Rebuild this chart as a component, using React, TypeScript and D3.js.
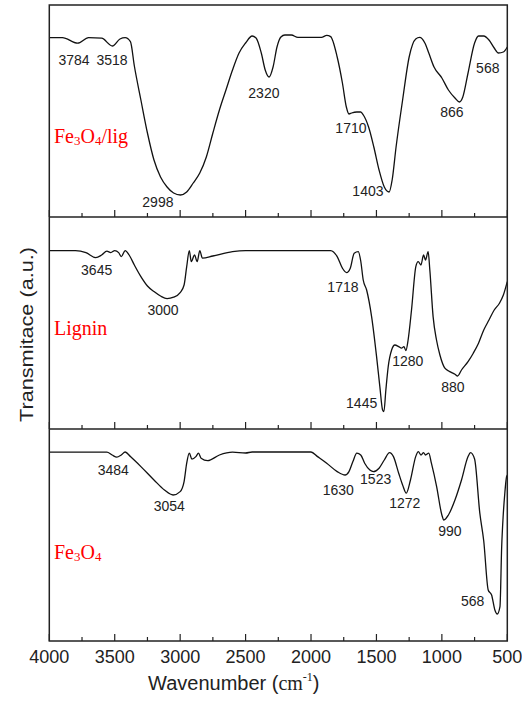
import React from 'react';
import * as d3 from 'd3';

// FTIR spectra, wavenumber (cm-1) vs transmittance (a.u.)

const compositeWn = [4000, 3900, 3784, 3700, 3600, 3518, 3460, 3420, 3380, 3350, 3300, 3250, 3200, 3150, 3100, 3050, 2998, 2950, 2900, 2850, 2800, 2750, 2700, 2650, 2600, 2550, 2500, 2450, 2420, 2380, 2350, 2320, 2290, 2260, 2230, 2200, 2150, 2100, 2000, 1920, 1880, 1850, 1800, 1760, 1730, 1710, 1690, 1650, 1620, 1600, 1560, 1520, 1480, 1440, 1403, 1380, 1350, 1300, 1250, 1200, 1170, 1130, 1100, 1060, 1000, 950, 900, 866, 840, 800, 750, 720, 680, 640, 600, 568, 530, 500];
const compositeT = [89.7, 89.7, 86.9, 89.7, 89.4, 85.5, 89, 89.7, 87.7, 75.5, 58.5, 42, 28.5, 20, 15, 12, 11, 12.5, 17, 22, 30, 42, 53.5, 63.5, 73.5, 82, 87, 90.5, 89.5, 82, 73.5, 70, 75, 85, 90, 91, 91, 89.8, 89.8, 89.8, 90.8, 90.2, 80, 67, 55, 51.5, 52, 52.5, 52.5, 51, 45, 35, 23.5, 15, 12.5, 18.5, 35, 58.5, 80, 89, 89.8, 87, 82, 75, 69.5, 63.5, 59.5, 57.5, 60, 72, 87, 90.5, 90.5, 88.5, 84.5, 82, 82.5, 85];

const ligninWn = [4000, 3800, 3720, 3645, 3600, 3560, 3530, 3500, 3470, 3450, 3420, 3390, 3350, 3300, 3250, 3200, 3150, 3100, 3050, 3000, 2970, 2950, 2930, 2915, 2890, 2870, 2850, 2830, 2750, 2600, 2500, 2000, 1850, 1800, 1760, 1728, 1700, 1670, 1639, 1620, 1601, 1575, 1537, 1499, 1474, 1453, 1443, 1428, 1410, 1384, 1359, 1330, 1308, 1290, 1275, 1258, 1232, 1199, 1181, 1160, 1140, 1125, 1105, 1092, 1067, 1041, 1015, 977, 940, 900, 880, 850, 800, 760, 720, 680, 640, 600, 560, 530, 500];
const ligninT = [89.2, 89.2, 88.2, 85.7, 87, 88.9, 88.2, 89.2, 88.2, 86.2, 89.2, 87, 82, 76.2, 71.5, 68.7, 66.5, 65.2, 65.9, 68.2, 72, 81.2, 89.2, 83.7, 87, 83.7, 89.2, 85.4, 86.5, 88.7, 89.2, 89.2, 89.2, 86.2, 80.4, 78.2, 80.4, 87.9, 88.7, 84, 74.5, 69.5, 56.2, 36.2, 21.2, 9.5, 8.7, 19.5, 31.2, 39.5, 42, 41.2, 40.4, 41.2, 39.2, 44.5, 59.5, 81.2, 83.7, 82, 87, 84.5, 88.7, 79.5, 56.2, 44.5, 37, 30.4, 28.7, 27.4, 26.5, 29.5, 33.7, 37.9, 42.9, 49.5, 54.5, 59.5, 62.9, 67, 73.7];

const magnetiteWn = [4000, 3560, 3520, 3484, 3450, 3420, 3380, 3300, 3200, 3120, 3054, 3000, 2970, 2950, 2930, 2910, 2880, 2860, 2840, 2790, 2700, 2600, 2500, 2450, 2000, 1950, 1880, 1800, 1740, 1710, 1680, 1650, 1620, 1590, 1550, 1523, 1480, 1440, 1400, 1370, 1330, 1300, 1272, 1240, 1200, 1180, 1160, 1140, 1125, 1100, 1080, 1040, 1000, 985, 950, 900, 850, 800, 781, 750, 710, 680, 646, 620, 595, 577, 556, 543, 532, 519, 506, 500];
const magnetiteT = [94.4, 94.4, 93, 91.9, 93, 94.5, 92.2, 87.2, 80.5, 75.5, 73, 74.7, 79.7, 88.9, 93.9, 90.9, 92.2, 93.9, 91.4, 90.2, 93, 94.4, 94, 94.5, 94.5, 92.2, 88.9, 84.7, 83, 84.7, 89.7, 93.9, 93, 88.9, 85.5, 84.7, 86.4, 90.5, 94.2, 92.2, 83.9, 78, 73.9, 80.5, 92.2, 94.7, 93, 94.2, 93, 93.9, 88.9, 77.2, 63, 60.5, 63, 70.5, 80.5, 92.2, 94.2, 91, 63.9, 50, 25.5, 23, 15.5, 13.5, 17.2, 47, 62, 73.9, 82, 83];

// peak labels, anchored in (wavenumber, transmittance) of each panel
const compositePeaks = ['3784', '3518', '2320', '1710', '866', '568', '2998', '1403'];
const compositePeakAt = [[3811, 76], [3521, 76], [2360, 59.5], [1695, 42], [924, 50], [649, 72], [3170, 5], [1565, 10.5]];

const ligninPeaks = ['3645', '3000', '1718', '1445', '1280', '880'];
const ligninPeakAt = [[3638, 77], [3131, 57], [1756, 68.7], [1613, 10.4], [1260, 31.7], [916, 18.7]];

const magnetitePeaks = ['3484', '3054', '1630', '1523', '1272', '990', '568'];
const magnetitePeakAt = [[3511, 83], [3083, 65], [1792, 73], [1506, 78.4], [1283, 66.7], [939, 52.7], [765, 17.7]];

const sampleNames = [['Fe', '3', 'O', '4', '/lig'], ['Lignin'], ['Fe', '3', 'O', '4']];
const sampleNameAt = [[3964, 37], [3964, 47], [3964, 41]];

const xTicks = d3.range(4000, 499, -250);

const W = 522;
const H = 702;
const left = 49.3;
const right = 507.3;
const top = 5;
const panelH = 212;

const sans = 'Liberation Sans, Arial, sans-serif';
const serif = 'Liberation Serif, Times New Roman, serif';

const x = d3.scaleLinear().domain([4000, 500]).range([left, right]);

const panels = [
  { wn: compositeWn, t: compositeT, peaks: compositePeaks, peakAt: compositePeakAt },
  { wn: ligninWn, t: ligninT, peaks: ligninPeaks, peakAt: ligninPeakAt },
  { wn: magnetiteWn, t: magnetiteT, peaks: magnetitePeaks, peakAt: magnetitePeakAt },
];

const Panel = ({ idx }: { idx: number }) => {
  const p = panels[idx];
  const y0 = top + idx * panelH;
  const y = d3.scaleLinear().domain([0, 106]).range([y0 + panelH, y0]);
  const line = d3
    .line<[number, number]>()
    .x((d) => x(d[0]))
    .y((d) => y(d[1]))
    .curve(d3.curveMonotoneX);
  const pts = p.wn.map((w, i) => [w, p.t[i]] as [number, number]);
  const name = sampleNames[idx];
  const [nw, nt] = sampleNameAt[idx];

  return (
    <g>
      <path d={line(pts) || ''} fill="none" stroke="#111" strokeWidth={1.3} />
      {xTicks.map((t) => (
        <line
          key={t}
          x1={x(t)}
          x2={x(t)}
          y1={y0 + panelH}
          y2={y0 + panelH - (t % 500 === 0 ? 7 : 4)}
          stroke="#222"
          strokeWidth={1.2}
        />
      ))}
      {p.peaks.map((s, i) => (
        <text
          key={s + i}
          x={x(p.peakAt[i][0])}
          y={y(p.peakAt[i][1])}
          textAnchor="middle"
          fontFamily={sans}
          fontSize={14}
          fill="#222"
        >
          {s}
        </text>
      ))}
      <text x={x(nw)} y={y(nt)} fontFamily={serif} fontSize={20} fill="#ff0000">
        {name.map((s, i) =>
          /^\d$/.test(s) ? (
            <tspan key={i} fontSize={13} dy={2}>
              {s}
            </tspan>
          ) : (
            <tspan key={i} dy={i > 0 && /^\d$/.test(name[i - 1]) ? -2 : 0}>
              {s}
            </tspan>
          )
        )}
      </text>
    </g>
  );
};

export default function App() {
  const bottom = top + 3 * panelH;
  return (
    <svg
      width={W}
      height={H}
      style={{ position: 'absolute', left: 0, top: 0, background: '#fff' }}
    >
      <rect x={0} y={0} width={W} height={H} fill="#fff" />
      {[0, 1, 2].map((i) => (
        <Panel key={i} idx={i} />
      ))}
      <rect
        x={left}
        y={top}
        width={right - left}
        height={bottom - top}
        fill="none"
        stroke="#222"
        strokeWidth={1.5}
      />
      {[1, 2].map((i) => (
        <line
          key={i}
          x1={left}
          x2={right}
          y1={top + i * panelH}
          y2={top + i * panelH}
          stroke="#222"
          strokeWidth={1.5}
        />
      ))}
      {xTicks
        .filter((t) => t % 500 === 0)
        .map((t) => (
          <text
            key={t}
            x={x(t)}
            y={bottom + 22}
            textAnchor="middle"
            fontFamily={sans}
            fontSize={18}
            fill="#222"
          >
            {t}
          </text>
        ))}
      <text x={148} y={690} fontFamily={sans} fontSize={20} fill="#222">
        Wavenumber (
        <tspan fontFamily={serif}>cm</tspan>
        <tspan fontFamily={serif} fontSize={12} dy={-9}>
          -1
        </tspan>
        <tspan dy={9}>)</tspan>
      </text>
      <text
        transform={`translate(33, 334.5) rotate(-90)`}
        textAnchor="middle"
        fontFamily={sans}
        fontSize={18}
        fill="#222"
        textLength={175}
        lengthAdjust="spacingAndGlyphs"
      >
        Transmitace (a.u.)
      </text>
    </svg>
  );
}
